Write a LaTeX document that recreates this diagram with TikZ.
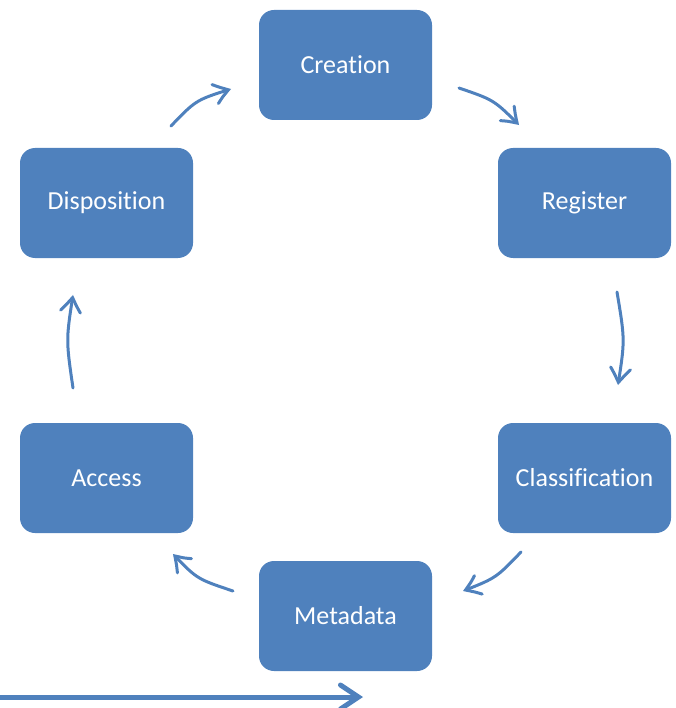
\documentclass[tikz,border=0pt]{standalone}
\usepackage{fontspec}
\setmainfont{Carlito}[Ligatures={NoCommon,NoRequired,NoContextual}]
\usetikzlibrary{arrows.meta,bending}
\definecolor{stageblue}{HTML}{4F81BD}
% keep "t" and "i" as separate glyphs
\newcommand{\tisplit}{t\kern0pt i}
\begin{document}
\begin{tikzpicture}[x=1pt,y=-1pt,
  stagebox/.style={fill=stageblue, draw=none, rounded corners=15pt,
    minimum width=173pt, minimum height=110pt, inner sep=0pt,
    text=white, font=\fontsize{26}{30}\selectfont},
  flow/.style={draw=stageblue, line width=3pt, line cap=round,
    -{Straight Barb[length=15pt,width=20pt,line cap=round,bend]}},
  bigflow/.style={draw=stageblue, line width=5pt,
    -{Straight Barb[length=18pt,width=24pt,line cap=round]}}]
\useasboundingbox (0,0) rectangle (675,708);

% lifecycle stages
\node[stagebox] (creation)       at (345.5,65)  {Crea\tisplit on};
\node[stagebox] (register)       at (584.5,203) {Register};
\node[stagebox] (classification) at (584.5,478) {Classifica\tisplit on};
\node[stagebox] (metadata)       at (345.5,616) {Metadata};
\node[stagebox] (access)         at (106.5,478) {Access};
\node[stagebox] (disposition)    at (106.5,203) {Disposition};

% arrow end points between the stages
\coordinate (c1) at (459,88);  \coordinate (r1) at (519,125);
\coordinate (r2) at (617,292); \coordinate (k1) at (618,385);
\coordinate (k2) at (521,552); \coordinate (m1) at (463,591);
\coordinate (m2) at (233,591); \coordinate (a1) at (173,554);
\coordinate (a2) at (73,388);  \coordinate (d1) at (73,295);
\coordinate (d2) at (171,126); \coordinate (c2) at (231,89);

\draw[flow] (c1) .. controls (494,100) .. (r1);
\draw[flow] (r2) .. controls (625,340) .. (k1);
\draw[flow] (k2) .. controls (496,578) .. (m1);
\draw[flow] (m2) .. controls (197,579) .. (a1);
\draw[flow] (a2) .. controls (66,340) .. (d1);
\draw[flow] (d2) .. controls (196,100) .. (c2);

% time line along the bottom
\coordinate (t0) at (0,697);
\coordinate (t1) at (363,697);
\draw[bigflow] (t0) -- (t1);
\end{tikzpicture}
\end{document}
